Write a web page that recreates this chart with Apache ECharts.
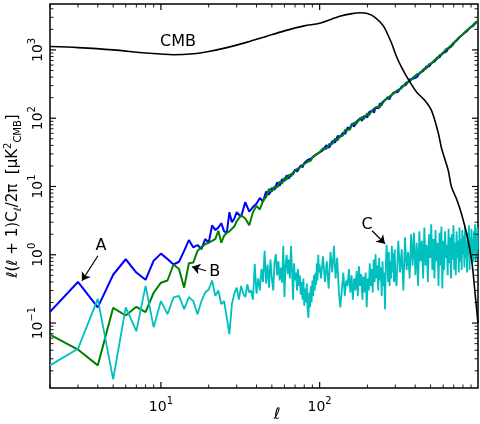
<!DOCTYPE html>
<html>
<head>
<meta charset="utf-8">
<script src="https://cdn.jsdelivr.net/npm/echarts@6/dist/echarts.min.js"></script>
<style>html,body{margin:0;padding:0;background:#fff}#main{width:480px;height:424px}</style>
</head>
<body>
<div id="main"></div>
<script>
// axis limits
var xMin = 2, xMax = 995, yMin = 0.0112, yMax = 4700;

// CMB theory curve
var cmbL = [2, 3, 5, 8, 12, 16, 20, 26, 35, 45, 60, 80, 100, 134, 160, 180, 200, 223, 252, 284, 305, 329, 366, 409, 462, 508, 560, 585, 647, 676, 730, 785, 845, 908, 950, 995];
var cmbV = [1120, 1080, 1000, 900, 850, 880, 950, 1080, 1300, 1550, 1900, 2250, 2450, 3100, 3400, 3500, 3400, 3000, 2250, 1250, 800, 550, 355, 240, 180, 128, 60, 37, 17, 10, 6.5, 3.9, 2.0, 0.82, 0.3, 0.1];

// A (blue): l = 2..30, 32..100 by 2, 105..300 by 5, 310..990 by 20
var blueA = [0.146, 0.40, 0.17, 0.51, 0.86, 0.55, 0.43, 0.82, 1.04, 0.87, 0.72, 0.79, 1.14, 1.64, 1.28, 1.39, 1.21, 1.7, 1.5, 2.7, 2.3, 2.5, 2.9, 2.2, 2.1, 4.2, 3.0, 3.4, 4.2];
var blueB = [3.6, 5.9, 4.3, 5.0, 5.6, 6.8, 6.0, 8.4, 7.6, 9.5, 9.0, 11.5, 10.2, 12.8, 12.0, 14.6, 13.0, 15.2, 15.0, 17.8, 16.5, 18.2, 20.5, 19.0, 22.0, 21.0, 24.5, 23.0, 25.5, 24.5, 28.0, 26.5, 30.0, 29.0, 31.5];
var blueC = [34, 40, 37, 46, 44, 55, 53, 61, 59, 73, 71, 83, 75, 88, 85, 100, 91, 107, 106, 103, 123, 116, 130, 120, 144, 141, 140, 165, 154, 170, 159, 187, 181, 205, 188, 209, 204, 233, 226, 242];
var blueD = [240, 292, 309, 369, 382, 399, 471, 490, 572, 571, 652, 674, 773, 778, 887, 916, 950, 1086, 1096, 1236, 1242, 1374, 1382, 1576, 1578, 1734, 1718, 1899, 1921, 2132, 2127, 2270, 2285, 2540, 2548];

// B (green), same l grid as A
var greenA = [0.068, 0.041, 0.024, 0.167, 0.129, 0.173, 0.145, 0.278, 0.39, 0.42, 0.72, 0.62, 0.33, 0.75, 0.77, 1.14, 1.3, 1.43, 1.5, 1.6, 1.7, 2.25, 1.5, 1.9, 2.1, 2.2, 2.4, 2.6, 3.1];
var greenB = [3.8, 3.4, 2.7, 4.2, 5.2, 4.6, 6.2, 7.0, 9.2, 8.4, 10.0, 9.6, 11.8, 11.0, 13.4, 12.6, 14.8, 14.0, 16.2, 15.6, 18.0, 17.2, 19.5, 19.0, 21.5, 22.5, 23.0, 24.5, 24.0, 26.5, 26.0, 28.5, 29.0, 30.5, 32.0];
var greenC = [36, 35.5, 42, 42, 50, 47.5, 56, 55.5, 68, 68, 68, 80, 86, 82, 91, 90, 104, 97, 109, 118, 110, 122, 122, 138, 132, 147, 147, 145, 167, 162, 181, 173, 191, 184, 208, 203, 220, 213, 233, 235];
var greenD = [258, 277, 331, 344, 398, 441, 453, 520, 534, 619, 639, 716, 728, 842, 853, 954, 1040, 1044, 1164, 1164, 1318, 1333, 1498, 1484, 1642, 1666, 1862, 1861, 2039, 2008, 2213, 2247, 2475, 2440, 2652];

// C (cyan): l = 2..30, 31..100, 102..300 by 3, 305..993 by 8
var cyanA = [0.024, 0.042, 0.226, 0.015, 0.17, 0.076, 0.35, 0.087, 0.21, 0.135, 0.237, 0.25, 0.16, 0.24, 0.21, 0.135, 0.21, 0.28, 0.31, 0.42, 0.25, 0.30, 0.19, 0.21, 0.12, 0.069, 0.19, 0.27, 0.33];
var cyanB = [0.22, 0.35, 0.27, 0.24, 0.37, 0.28, 0.30, 0.22, 0.73, 0.27, 0.45, 0.30, 0.62, 0.40, 1.14, 0.38, 0.72, 0.33, 0.85, 0.45, 0.30, 0.78, 1.02, 0.50, 0.80, 0.42, 0.65, 0.39, 1.35, 0.24, 0.70, 1.0, 0.52, 0.85, 0.45, 1.35, 0.60, 0.22, 0.75, 0.42, 0.55, 0.30, 0.62, 0.35, 0.50, 0.26, 0.40, 0.22, 0.45, 0.18, 0.32, 0.20, 0.38, 0.16, 0.12, 0.28, 0.17, 0.35, 0.20, 0.42, 0.25, 0.50, 0.30, 0.54, 0.36, 0.75, 0.42, 1.0, 0.55, 0.72];
var cyanC = [0.45, 0.95, 0.40, 0.80, 0.32, 1.10, 0.55, 1.35, 0.45, 0.90, 0.30, 0.17, 0.30, 0.55, 0.25, 0.42, 0.35, 0.62, 0.28, 0.50, 0.22, 0.45, 0.30, 0.58, 0.25, 0.68, 0.35, 0.52, 0.22, 0.48, 0.28, 0.55, 0.17, 0.45, 0.30, 0.75, 0.35, 0.62, 0.28, 0.85, 0.40, 1.02, 0.45, 0.70, 0.30, 0.90, 0.42, 0.65, 0.25, 0.80, 0.35, 0.55, 0.16, 0.60, 1.4, 0.95, 0.40, 1.10, 0.35, 0.80, 0.45, 1.35, 0.55, 1.05, 0.40, 1.20, 0.50];
var cyanD = [0.35, 1.6, 0.55, 1.2, 0.30, 1.8, 0.6, 1.1, 0.45, 2.0, 0.7, 2.1, 0.5, 1.5, 0.35, 2.2, 0.8, 1.6, 0.45, 2.5, 0.7, 1.4, 0.4, 2.0, 0.9, 2.8, 0.6, 1.7, 0.45, 2.3, 0.8, 1.5, 0.35, 2.1, 0.7, 2.6, 0.32, 1.6, 0.6, 2.2, 0.9, 1.4, 0.5, 2.4, 0.75, 1.8, 0.45, 2.0, 0.85, 2.7, 0.6, 1.5, 0.5, 2.2, 0.9, 1.6, 0.55, 2.5, 0.8, 1.7, 0.6, 2.3, 1.0, 1.9, 0.65, 2.6, 0.9, 1.6, 0.55, 2.1, 1.0, 2.7, 0.6, 1.8, 0.9, 2.4, 0.75, 1.7, 0.8, 2.2, 1.1, 2.8, 0.8, 1.9, 0.9, 2.5, 1.2];

// annotations (data coordinates)
var notes = [
  {text: 'CMB', at: [12.8, 1315]},
  {text: 'A', at: [4.19, 1.35], from: [4.01, 0.967], to: [3.18, 0.416]},
  {text: 'B', at: [21.8, 0.565], from: [19.2, 0.583], to: [15.7, 0.667]},
  {text: 'C', at: [199, 2.75], from: [214, 2.245], to: [258, 1.45]}
];

function seg(start, step, vals) {
  return vals.map(function (v, i) { return [start + step * i, v]; });
}
function pairs(ls, vs) {
  return ls.map(function (l, i) { return [l, vs[i]]; });
}
var blue = [].concat(seg(2, 1, blueA), seg(32, 2, blueB), seg(105, 5, blueC), seg(310, 20, blueD));
var green = [].concat(seg(2, 1, greenA), seg(32, 2, greenB), seg(105, 5, greenC), seg(310, 20, greenD));
var cyan = [].concat(seg(2, 1, cyanA), seg(31, 1, cyanB), seg(102, 3, cyanC), seg(305, 8, cyanD));

// log ticks drawn inward on all four sides
var tickData = [];
for (var d = -2; d <= 3; d++) {
  for (var m = 1; m <= 9; m++) {
    var v = m * Math.pow(10, d);
    if (v >= xMin && v <= xMax) tickData.push([v, 1, 0, m === 1 ? 1 : 0]);
    if (v >= yMin && v <= yMax) tickData.push([10, v, 1, m === 1 ? 1 : 0]);
  }
}

function tickItem(params, api) {
  var cs = params.coordSys;
  var kind = api.value(2), major = api.value(3);
  var len = major ? 6 : 3.5;
  var p = api.coord([api.value(0), api.value(1)]);
  var segs;
  if (kind === 0) {
    segs = [[p[0], cs.y + cs.height, p[0], cs.y + cs.height - len], [p[0], cs.y, p[0], cs.y + len]];
  } else {
    segs = [[cs.x, p[1], cs.x + len, p[1]], [cs.x + cs.width, p[1], cs.x + cs.width - len, p[1]]];
  }
  return {
    type: 'group',
    children: segs.map(function (s) {
      return {type: 'line', shape: {x1: s[0], y1: s[1], x2: s[2], y2: s[3]},
        style: {stroke: '#000', lineWidth: major ? 1.2 : 0.9}};
    })
  };
}

function powLabel(v) {
  var e = Math.log10(v);
  var n = Math.round(e);
  if (Math.abs(e - n) > 1e-6) return '';
  return '{b|10}{s|' + (n < 0 ? '\u2212' + (-n) : n) + '}';
}
var powRich = {
  b: {fontSize: 14, lineHeight: 18, verticalAlign: 'bottom', color: '#000'},
  s: {fontSize: 10, lineHeight: 10, verticalAlign: 'top', color: '#000'}
};

var myChart = echarts.init(document.getElementById('main'));
var option = {
  animation: false,
  backgroundColor: '#fff',
  textStyle: {fontFamily: 'DejaVu Sans'},
  grid: {left: 50, right: 2, top: 4, bottom: 36, outerBoundsMode: 'none', show: true, borderColor: '#000', borderWidth: 1.5},
  xAxis: {
    type: 'log', logBase: 10, min: xMin, max: xMax,
    name: 'ℓ', nameLocation: 'middle', nameGap: 19, nameMoveOverlap: false,
    nameTextStyle: {fontSize: 16, fontStyle: 'italic', color: '#000', padding: [0, 0, 0, 26]},
    axisLine: {show: false}, axisTick: {show: false}, splitLine: {show: false},
    axisLabel: {margin: 8, formatter: powLabel, rich: powRich, showMinLabel: false, showMaxLabel: false}
  },
  yAxis: {
    type: 'log', logBase: 10, min: yMin, max: yMax,
    name: 'ℓ(ℓ + 1)C{sub|ℓ}/2π  [μK{sup|2}{sub|CMB}]', nameLocation: 'middle', nameGap: 27, nameMoveOverlap: false,
    nameTextStyle: {fontSize: 15, lineHeight: 20, color: '#000', rich: {
      sub: {fontSize: 10, lineHeight: 10, verticalAlign: 'bottom', color: '#000'},
      sup: {fontSize: 10, lineHeight: 10, verticalAlign: 'top', color: '#000'}
    }},
    axisLine: {show: false}, axisTick: {show: false}, splitLine: {show: false},
    axisLabel: {margin: 5, rotate: 90, formatter: powLabel, rich: powRich, showMinLabel: false, showMaxLabel: false}
  },
  series: [
    {type: 'line', name: 'A', data: blue, showSymbol: false, lineStyle: {color: '#0000ff', width: 2}, itemStyle: {color: '#0000ff'}},
    {type: 'line', name: 'B', data: green, showSymbol: false, lineStyle: {color: '#008000', width: 2}, itemStyle: {color: '#008000'}},
    {type: 'line', name: 'C', data: cyan, showSymbol: false, lineStyle: {color: '#00bfbf', width: 1.8}, itemStyle: {color: '#00bfbf'}},
    {
      type: 'line', name: 'CMB', data: pairs(cmbL, cmbV), showSymbol: false, smooth: 0.3,
      lineStyle: {color: '#000', width: 1.6}, itemStyle: {color: '#000'},
      markLine: {
        silent: true, symbol: ['none', 'arrow'], symbolSize: 8,
        lineStyle: {color: '#000', width: 1.2, type: 'solid'}, label: {show: false},
        data: notes.filter(function (n) { return n.from; }).map(function (n) {
          return [{coord: n.from}, {coord: n.to}];
        })
      },
      markPoint: {
        silent: true, symbol: 'circle', symbolSize: 1, itemStyle: {color: 'rgba(0,0,0,0)'},
        label: {show: true, position: 'inside', color: '#000', fontSize: 16, formatter: '{b}'},
        data: notes.map(function (n) { return {name: n.text, coord: n.at}; })
      }
    },
    {type: 'custom', renderItem: tickItem, data: tickData, z: 10}
  ]
};
myChart.setOption(option);
</script>
</body>
</html>
